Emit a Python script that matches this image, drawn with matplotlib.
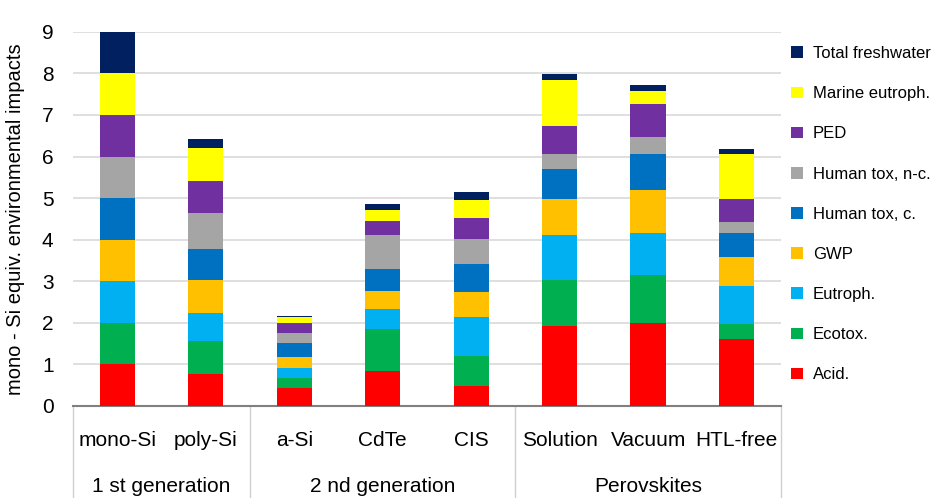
import numpy as np
import matplotlib.pyplot as plt
from matplotlib.patches import Patch
import matplotlib.transforms as mtransforms

plt.rcParams["font.family"] = ["Liberation Sans", "DejaVu Sans"]

cats = ["mono-Si", "poly-Si", "a-Si", "CdTe", "CIS", "Solution", "Vacuum", "HTL-free"]
groups = ["1 st generation", "2 nd generation", "Perovskites"]
group_sizes = [2, 3, 3]

impacts = ["Acid.", "Ecotox.", "Eutroph.", "GWP", "Human tox, c.",
           "Human tox, n-c.", "PED", "Marine eutroph.", "Total freshwater"]
colors = ["#FF0000", "#00B050", "#00B0F0", "#FFC000", "#0070C0",
          "#A5A5A5", "#7030A0", "#FFFF00", "#002060"]

# one list per impact, one value per technology
acid      = [1.00, 0.77, 0.42, 0.83, 0.47, 1.93, 1.99, 1.61]
ecotox    = [1.00, 0.80, 0.25, 1.02, 0.72, 1.09, 1.17, 0.36]
eutroph   = [1.00, 0.66, 0.23, 0.48, 0.94, 1.10, 1.01, 0.92]
gwp       = [1.00, 0.79, 0.27, 0.43, 0.61, 0.85, 1.03, 0.70]
htox_c    = [1.00, 0.75, 0.35, 0.53, 0.67, 0.73, 0.85, 0.57]
htox_nc   = [1.00, 0.87, 0.23, 0.82, 0.61, 0.35, 0.42, 0.27]
ped       = [1.00, 0.77, 0.24, 0.33, 0.50, 0.69, 0.80, 0.56]
marine    = [1.00, 0.79, 0.14, 0.28, 0.44, 1.11, 0.30, 1.06]
freshwater = [1.00, 0.22, 0.04, 0.14, 0.19, 0.14, 0.16, 0.13]
values = [acid, ecotox, eutroph, gwp, htox_c, htox_nc, ped, marine, freshwater]

fig = plt.figure(figsize=(9.42, 4.98), dpi=100)
ax = fig.add_axes([0.0775, 0.185, 0.7515, 0.751])

x = np.arange(len(cats))
bottom = np.zeros(len(cats))
for name, vals, col in zip(impacts, values, colors):
    ax.bar(x, vals, bottom=bottom, width=0.4, color=col, label=name, zorder=3)
    bottom += np.array(vals)

ax.set_xlim(-0.5, len(cats) - 0.5)
ax.set_ylim(0, 9)
ax.set_yticks(range(10))
ax.tick_params(axis="y", length=0, labelsize=15, pad=14)
ax.tick_params(axis="x", length=0, labelsize=15, pad=18)
ax.set_xticks(x)
ax.set_xticklabels(cats)
ax.yaxis.grid(True, color="#D9D9D9", linewidth=1.2, zorder=0)
for s in ["top", "right", "left"]:
    ax.spines[s].set_visible(False)
ax.spines["bottom"].set_color("#808080")
ax.spines["bottom"].set_linewidth(1.5)
ax.set_ylabel("mono - Si equiv. environmental impacts", fontsize=14.5, labelpad=12)

# group separators and group labels under the category names
trans = mtransforms.blended_transform_factory(ax.transData, ax.transAxes)
edges = np.concatenate([[0], np.cumsum(group_sizes)]) - 0.5
for e in edges:
    ax.plot([e, e], [0, -0.25], transform=trans, color="#D0D0D0",
            linewidth=1, clip_on=False)
for g, a, b in zip(groups, edges[:-1], edges[1:]):
    ax.text((a + b) / 2, -0.215, g, transform=trans, ha="center", va="center",
            fontsize=15)

handles = [Patch(facecolor=c) for c in colors][::-1]
ax.legend(handles, impacts[::-1], loc="upper left", bbox_to_anchor=(1.005, 0.98),
          frameon=False, fontsize=12, handlelength=0.7, handleheight=0.7,
          handletextpad=0.6, labelspacing=1.51, borderaxespad=0)

fig.savefig("out.png", dpi=100)
